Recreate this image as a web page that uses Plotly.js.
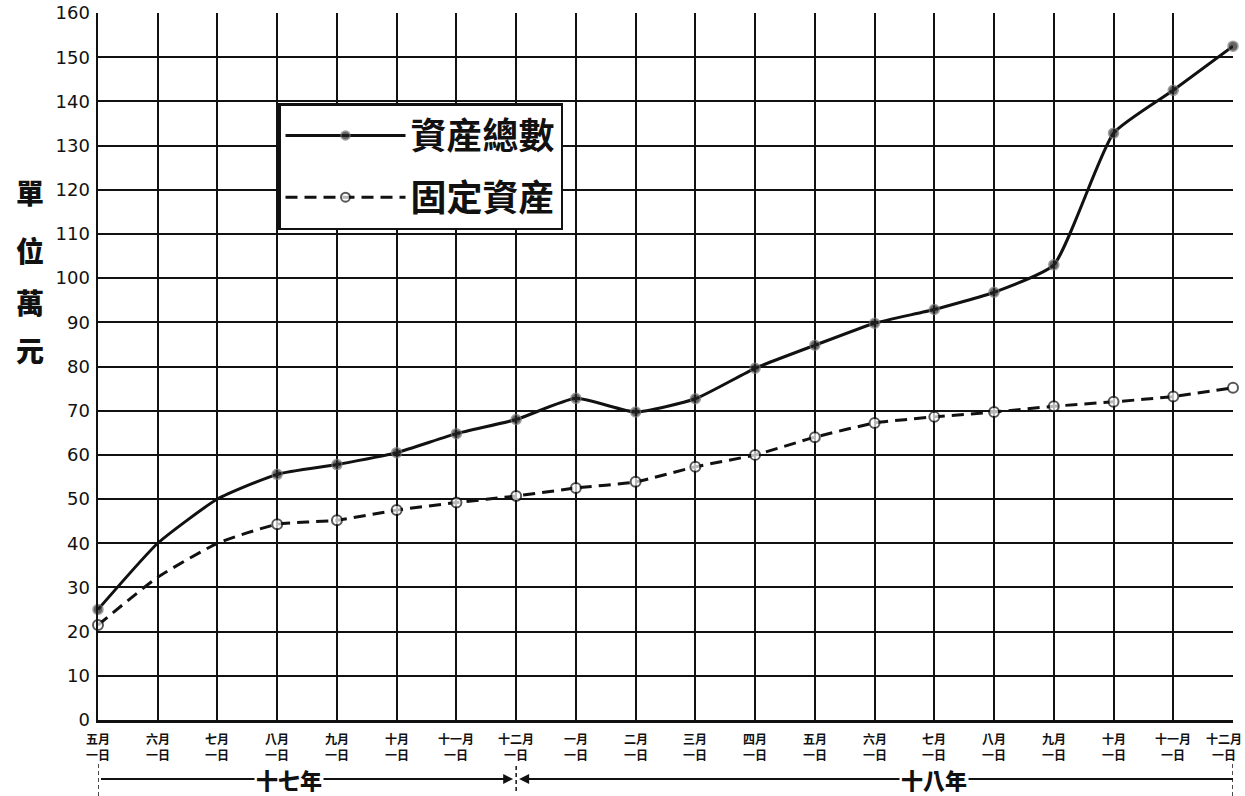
<!DOCTYPE html>
<html>
<head>
<meta charset="utf-8">
<script src="https://cdn.plot.ly/plotly-3.0.1.min.js"></script>
<style>html,body{margin:0;padding:0;background:#fff;}#chart{width:1245px;height:796px;}</style>
</head>
<body>
<div id="chart"></div>
<script>
// Data
const months = ["五月一日","六月一日","七月一日","八月一日","九月一日","十月一日","十一月一日","十二月一日",
  "一月一日","二月一日","三月一日","四月一日","五月一日","六月一日","七月一日","八月一日","九月一日","十月一日","十一月一日","十二月一日"];
const totalAssets = [25, 40, 50, 55.6, 57.8, 60.5, 64.8, 68, 72.8, 69.7, 72.7, 79.6, 84.8, 89.8, 92.9, 96.8, 103, 132.8, 142.5, 152.5];
const fixedAssets = [21.5, 32.3, 40, 44.3, 45.2, 47.5, 49.2, 50.7, 52.5, 53.9, 57.3, 60, 64, 67.2, 68.6, 69.7, 71, 72, 73.2, 75.2];
const markedPoints = [1,0,0,1,1,1,1,1,1,1,1,1,1,1,1,1,1,1,1,1];
const yTicks = [0,10,20,30,40,50,60,70,80,90,100,110,120,130,140,150,160];
const seriesNames = ["資産總數","固定資産"];
const yearLabels = ["十七年","十八年"];
const yUnit = "單位萬元";

const xIdx = months.map((_, i) => i);
const msize = markedPoints.map(m => m ? 10 : 0);

const cjk = '"Noto Sans CJK TC", "Noto Sans CJK SC", sans-serif';

const traces = [
  {
    x: xIdx, y: totalAssets, name: seriesNames[0], legendgroup: 'a', type: 'scatter', mode: 'lines+markers',
    line: {color: '#111', width: 3, shape: 'spline', smoothing: 0.5},
    marker: {size: msize, color: '#222', symbol: 'circle', line: {color: '#777', width: 1.5}},
    cliponaxis: false
  },
  {
    x: xIdx, y: fixedAssets, name: seriesNames[1], legendgroup: 'b', type: 'scatter', mode: 'lines+markers',
    line: {color: '#111', width: 3, dash: '12px,7px', shape: 'spline', smoothing: 0.5},
    marker: {size: msize, color: '#fff', symbol: 'circle', line: {color: '#111', width: 2}},
    cliponaxis: false
  }
];

const T = 13, B = 720, H = B - T;
const py = Y => (B - Y) / H;
const N = months.length - 1;
const YR = 779;

const shapes = [
  {type:'line', xref:'x', yref:'paper', x0:0.05, x1:6.9, y0:py(YR), y1:py(YR), line:{color:'#111', width:2}},
  {type:'line', xref:'x', yref:'paper', x0:7.1, x1:19, y0:py(YR), y1:py(YR), line:{color:'#111', width:2}},
  {type:'line', xref:'x', yref:'paper', x0:0, x1:0, y0:py(764), y1:py(796), line:{color:'#111', width:1.5, dash:'4px,3px'}},
  {type:'line', xref:'x', yref:'paper', x0:7, x1:7, y0:py(766), y1:py(794), line:{color:'#111', width:1.5, dash:'4px,3px'}},
  {type:'line', xref:'x', yref:'paper', x0:19, x1:19, y0:py(764), y1:py(796), line:{color:'#111', width:1.5, dash:'4px,3px'}}
];

const annotations = [];
const unitY = [192, 250, 302, 350];
yUnit.split('').forEach((ch, i) => {
  annotations.push({xref:'paper', yref:'paper', x:(30-98)/1135, y:py(unitY[i]), text: ch, showarrow:false,
    font:{family:cjk, size:28, color:'#111', weight:900}, xanchor:'center', yanchor:'middle'});
});
// x tick labels: month part on top, day part below (compact, like the stacked originals)
months.forEach((m, i) => {
  const last = i === N;
  const k = m.indexOf('月') + 1;
  annotations.push({xref:'paper', yref:'paper', x: last ? 1 + 11/1135 : i / N, y: py(728), text: m.slice(0, k) + '<br>' + m.slice(k),
    showarrow:false, font:{family:cjk, size:12, color:'#111', weight:700}, xanchor: last ? 'right' : 'center', yanchor:'top',
    align:'center'});
});
annotations.push(
  {xref:'x', yref:'paper', x:3.2, y:py(YR), text: yearLabels[0], showarrow:false, bgcolor:'#fff',
   font:{family:cjk, size:22, color:'#111', weight:900}, xanchor:'center', yanchor:'middle', borderpad:1},
  {xref:'x', yref:'paper', x:14, y:py(YR), text: yearLabels[1], showarrow:false, bgcolor:'#fff',
   font:{family:cjk, size:22, color:'#111', weight:900}, xanchor:'center', yanchor:'middle', borderpad:1},
  {xref:'x', yref:'paper', x:6.95, y:py(YR), ax:-14, ay:0, text:'', showarrow:true, arrowhead:2, arrowsize:1, arrowwidth:2, arrowcolor:'#111'},
  {xref:'x', yref:'paper', x:7.05, y:py(YR), ax:14, ay:0, text:'', showarrow:true, arrowhead:2, arrowsize:1, arrowwidth:2, arrowcolor:'#111'}
);

const layout = {
  width: 1245, height: 796,
  margin: {l: 98, r: 12, t: T, b: 796 - B},
  paper_bgcolor: '#fff', plot_bgcolor: '#fff',
  showlegend: true,
  legend: {x: (278-98)/1135, y: py(103), xanchor:'left', yanchor:'top', bgcolor:'#fff', bordercolor:'#111', borderwidth:2.5,
    font:{family:cjk, size:36, color:'#111', weight:700}, itemwidth: 120, tracegroupgap: 12, traceorder:'grouped',
    itemsizing:'trace'},
  xaxis: {
    range: [0, 19], tickmode:'array', tickvals: xIdx, ticktext: months.map(() => ''), tickangle: 0,
    showgrid: true, gridcolor:'#111', gridwidth: 2, zeroline:false,
    showline:true, linecolor:'#111', linewidth:2.5, mirror:false, ticks:'', fixedrange:true
  },
  yaxis: {
    range: [0, 160], tickmode:'array', tickvals: yTicks, ticktext: yTicks.map(String),
    tickfont:{family:'"DejaVu Sans", sans-serif', size:18, color:'#111'},
    showgrid: true, gridcolor:'#111', gridwidth: 2, zeroline:false,
    showline:true, linecolor:'#111', linewidth:2.5, ticks:'', ticklabelstandoff: 2, fixedrange:true
  },
  shapes: shapes,
  annotations: annotations
};

Plotly.newPlot('chart', traces, layout, {displayModeBar:false, staticPlot:true});
</script>
</body>
</html>
